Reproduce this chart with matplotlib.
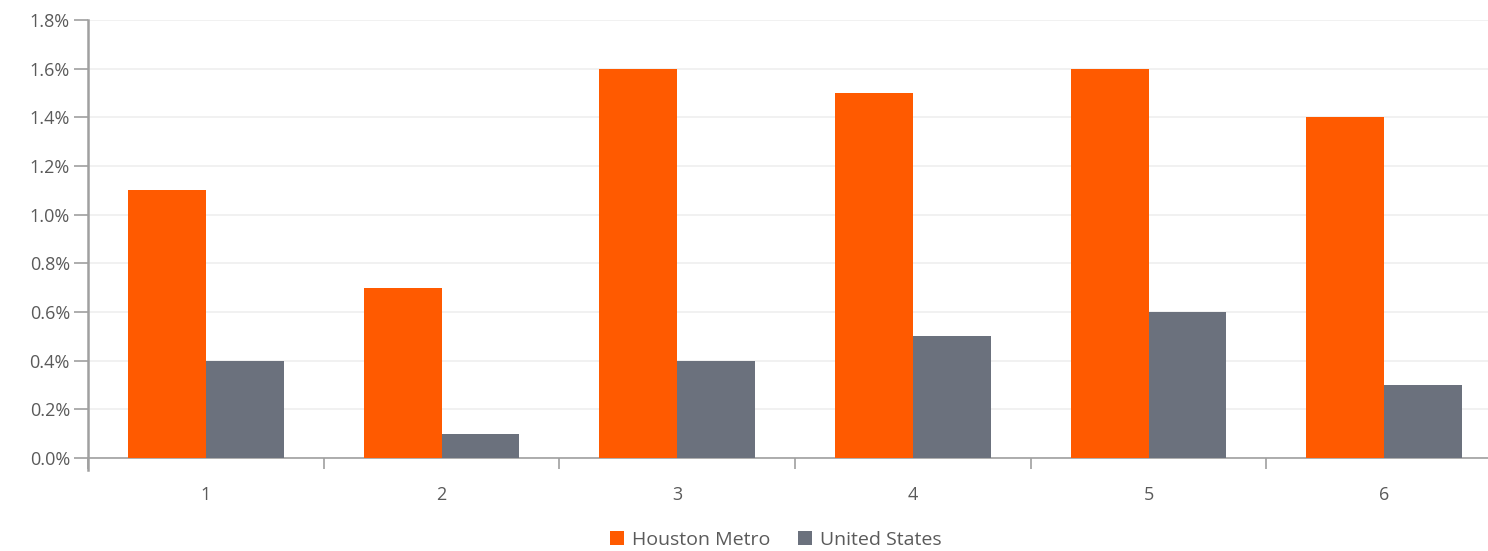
import matplotlib
matplotlib.use("Agg")
import matplotlib.pyplot as plt
import numpy as np
from matplotlib.ticker import FuncFormatter, FixedLocator

categories = ["1", "2", "3", "4", "5", "6"]
houston = [1.1, 0.7, 1.6, 1.5, 1.6, 1.4]
united_states = [0.4, 0.1, 0.4, 0.5, 0.6, 0.3]
series_names = ["Houston Metro", "United States"]
y_ticks = [0.0, 0.2, 0.4, 0.6, 0.8, 1.0, 1.2, 1.4, 1.6, 1.8]

orange = "#FF5A00"
slate = "#6B717D"
axis_gray = "#A0A0A0"
text_gray = "#5A5A5A"

plt.rcParams["font.family"] = ["Open Sans", "DejaVu Sans"]

fig = plt.figure(figsize=(14.88, 5.51), dpi=100)
ax = fig.add_axes([88 / 1488, 1 - 458 / 551, 1414 / 1488, 438 / 551])

x = np.arange(len(categories))
w = 0.33
ax.bar(x - w / 2, houston, width=w, color=orange, label=series_names[0], zorder=3)
ax.bar(x + w / 2, united_states, width=w, color=slate, label=series_names[1], zorder=3)

ax.set_xlim(-0.5, len(categories) - 0.5)
ax.set_ylim(0, 1.8)

ax.set_yticks(y_ticks)
ax.yaxis.set_major_formatter(FuncFormatter(lambda v, p: f"{v:.1f}%"))
ax.grid(axis="y", color="#EFEFEF", linewidth=1.2, zorder=0)

ax.set_xticks(x)
ax.set_xticklabels(categories)
ax.tick_params(axis="x", which="major", length=0, pad=20, labelsize=13, labelcolor=text_gray)
ax.xaxis.set_minor_locator(FixedLocator(np.arange(-0.5, len(categories), 1.0)))
ax.tick_params(axis="x", which="minor", length=8, width=1.2, color=axis_gray)
ax.tick_params(axis="y", length=10, width=1.2, color=axis_gray, labelsize=13,
               labelcolor=text_gray, pad=3)

for side in ["top", "right"]:
    ax.spines[side].set_visible(False)
ax.spines["left"].set_color(axis_gray)
ax.spines["left"].set_linewidth(1.8)
ax.spines["left"].set_bounds(-0.05, 1.8)
ax.spines["bottom"].set_color(axis_gray)
ax.spines["bottom"].set_linewidth(1.2)

fig.legend(loc="center", bbox_to_anchor=(776 / 1488, 1 - 540 / 551), ncol=2,
           frameon=False, fontsize=14, handlelength=0.7, handleheight=0.7,
           handletextpad=0.45, columnspacing=1.4, labelcolor=text_gray)

fig.savefig("out.png", dpi=100)
